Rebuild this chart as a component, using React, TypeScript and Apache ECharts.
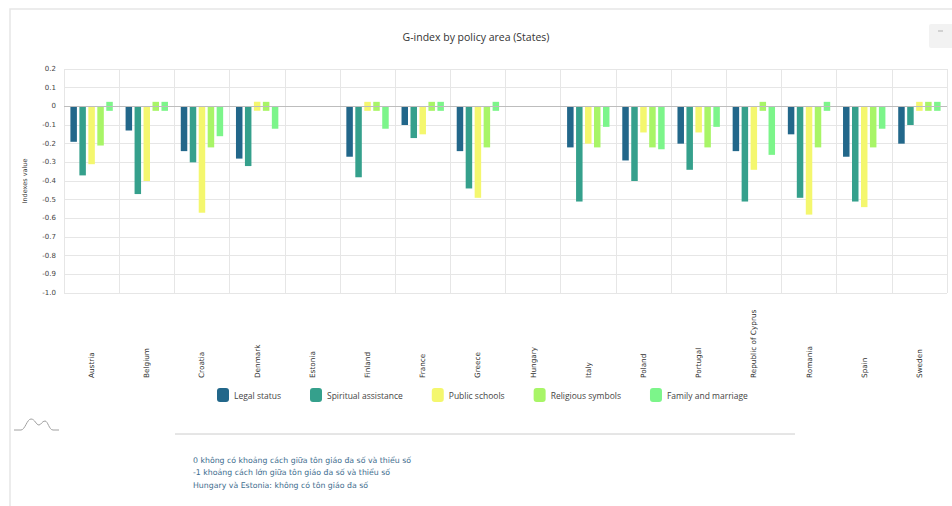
import React, { useEffect, useRef } from 'react';
import * as echarts from 'echarts';

const countries = ['Austria', 'Belgium', 'Croatia', 'Denmark', 'Estonia', 'Finland', 'France', 'Greece', 'Hungary', 'Italy', 'Poland', 'Portugal', 'Republic of Cyprus', 'Romania', 'Spain', 'Sweden'];
const seriesNames = ['Legal status', 'Spiritual assistance', 'Public schools', 'Religious symbols', 'Family and marriage'];
const legalStatus = [-0.19, -0.13, -0.24, -0.28, null, -0.27, -0.10, -0.24, null, -0.22, -0.29, -0.20, -0.24, -0.15, -0.27, -0.20];
const spiritualAssistance = [-0.37, -0.47, -0.30, -0.32, null, -0.38, -0.17, -0.44, null, -0.51, -0.40, -0.34, -0.51, -0.49, -0.51, -0.10];
const publicSchools = [-0.31, -0.40, -0.57, 0, null, 0, -0.15, -0.49, null, -0.20, -0.14, -0.14, -0.34, -0.58, -0.54, 0];
const religiousSymbols = [-0.21, 0, -0.22, 0, null, 0, 0, -0.22, null, -0.22, -0.22, -0.22, 0, -0.22, -0.22, 0];
const familyAndMarriage = [0, 0, -0.16, -0.12, null, -0.12, 0, 0, null, -0.11, -0.23, -0.11, -0.26, 0, -0.12, 0];
const yMin = -1.0;
const yMax = 0.2;
const yInterval = 0.1;
const notes = [
  '0 không có khoảng cách giữa tôn giáo đa số và thiểu số',
  '-1 khoảng cách lớn giữa tôn giáo đa số và thiểu số',
  'Hungary và Estonia: không có tôn giáo đa số',
];

const allSeries = [legalStatus, spiritualAssistance, publicSchools, religiousSymbols, familyAndMarriage];
const colors = ['#22678a', '#35a08c', '#f4f76e', '#a8f567', '#7cf58a'];
const BAR_W = 6.5;
const BAR_GAP = 0.38;

const LOGO_D = 'M14 430 L21 430 C25 430 27 419 31 419 C35 419 36 425 39 425 C41 425 42 421 45 421 C48 421 49 430 53 430 L59 430';
try {
  echarts.graphic.registerShape('logo', echarts.graphic.extendPath(LOGO_D, {}));
} catch (e) {}

export default function App() {
  const ref = useRef<HTMLDivElement>(null);
  useEffect(() => {
    if (!ref.current) return;
    const chart = echarts.init(ref.current, null, { renderer: 'svg' });
    const zeroData: number[][] = [];
    allSeries.forEach((arr, s) => {
      arr.forEach((v, c) => {
        if (v === 0) zeroData.push([c, 0, s]);
      });
    });
    const barSeries: any[] = allSeries.map((arr, s) => ({
      name: seriesNames[s],
      type: 'bar',
      data: arr.map((v) => (v === 0 ? null : v)),
      barWidth: BAR_W,
      barGap: `${BAR_GAP * 100}%`,
      itemStyle: { color: colors[s] },
      markLine: s === 0 ? {
        silent: true,
        symbol: 'none',
        label: { show: false },
        lineStyle: { color: '#bdbdbd', width: 1, type: 'solid' },
        data: [{ yAxis: 0 }],
      } : undefined,
    }));
    const zeroSeries = {
      name: '__zero',
      type: 'custom',
      silent: true,
      encode: { x: 0, y: 1 },
      data: zeroData,
      renderItem: (params: any, api: any) => {
        const c = api.coord([api.value(0), 0]);
        const s = api.value(2);
        const step = BAR_W * (1 + BAR_GAP);
        const x = c[0] + (s - 2) * step - BAR_W / 2;
        return {
          type: 'rect',
          shape: { x, y: c[1] - 4.5, width: BAR_W, height: 9 },
          style: { fill: colors[s] },
        };
      },
    };
    chart.setOption({
      animation: false,
      title: {
        text: 'G-index by policy area (States)',
        left: 'center',
        top: 26,
        textStyle: { fontFamily: 'Open Sans', fontSize: 10.5, fontWeight: 'normal', color: '#333' },
      },
      legend: {
        data: seriesNames,
        left: 212,
        top: 383,
        icon: 'roundRect',
        itemWidth: 12,
        itemHeight: 14,
        itemGap: 29,
        textStyle: { fontFamily: 'Open Sans', fontSize: 8.5, color: '#444' },
      },
      grid: { left: 64, right: 5, top: 69, bottom: 213, containLabel: false },
      xAxis: {
        type: 'category',
        data: countries,
        boundaryGap: true,
        axisLine: { show: false },
        axisTick: { show: false },
        splitLine: { show: true, lineStyle: { color: '#e6e6e6', width: 1 } },
        axisLabel: {
          interval: 0,
          rotate: 90,
          align: 'left',
          verticalAlign: 'middle',
          margin: 85,
          fontFamily: 'DejaVu Sans',
          fontSize: 7.3,
          color: '#333',
        },
      },
      yAxis: {
        type: 'value',
        min: yMin,
        max: yMax,
        interval: yInterval,
        name: 'Indexes value',
        nameLocation: 'middle',
        nameGap: 36,
        nameTextStyle: { fontFamily: 'DejaVu Sans', fontSize: 6.5, color: '#444' },
        axisLine: { show: false },
        axisTick: { show: false },
        splitLine: { show: true, lineStyle: { color: '#e6e6e6', width: 1 } },
        axisLabel: {
          margin: 8,
          fontFamily: 'DejaVu Sans',
          fontSize: 7,
          color: '#444',
          formatter: (v: number) => (Math.abs(v) < 1e-9 ? '0' : v.toFixed(1)),
        },
      },
      graphic: [
        { type: 'rect', silent: true, shape: { x: 10, y: 9, width: 960, height: 520 }, style: { fill: 'none', stroke: '#e6e6e6', lineWidth: 1.5 } },
        { type: 'rect', silent: true, shape: { x: 929, y: 24, width: 30, height: 24, r: 2 }, style: { fill: '#f2f2f2' } },
        { type: 'line', silent: true, shape: { x1: 938, y1: 31, x2: 943, y2: 31 }, style: { stroke: '#b0b0b0', lineWidth: 1 } },
        { type: 'logo', silent: true, x: 0, y: 0, style: { fill: 'none', stroke: '#a0a0a0', lineWidth: 1 } },
        { type: 'line', silent: true, shape: { x1: 175, y1: 434, x2: 795, y2: 434 }, style: { stroke: '#cccccc', lineWidth: 1 } },
        ...notes.map((t, i) => ({
          type: 'text',
          silent: true,
          x: 193,
          y: 460 + i * 12.7,
          style: { text: t, fontFamily: 'DejaVu Sans', fontSize: 7.8, fill: '#3e6d8e', verticalAlign: 'middle', align: 'left' },
        })),
      ],
      series: [...barSeries, zeroSeries],
    });
    return () => chart.dispose();
  }, []);
  return <div ref={ref} style={{ position: 'fixed', left: 0, top: 0, width: 952, height: 506, background: '#fff' }} />;
}
